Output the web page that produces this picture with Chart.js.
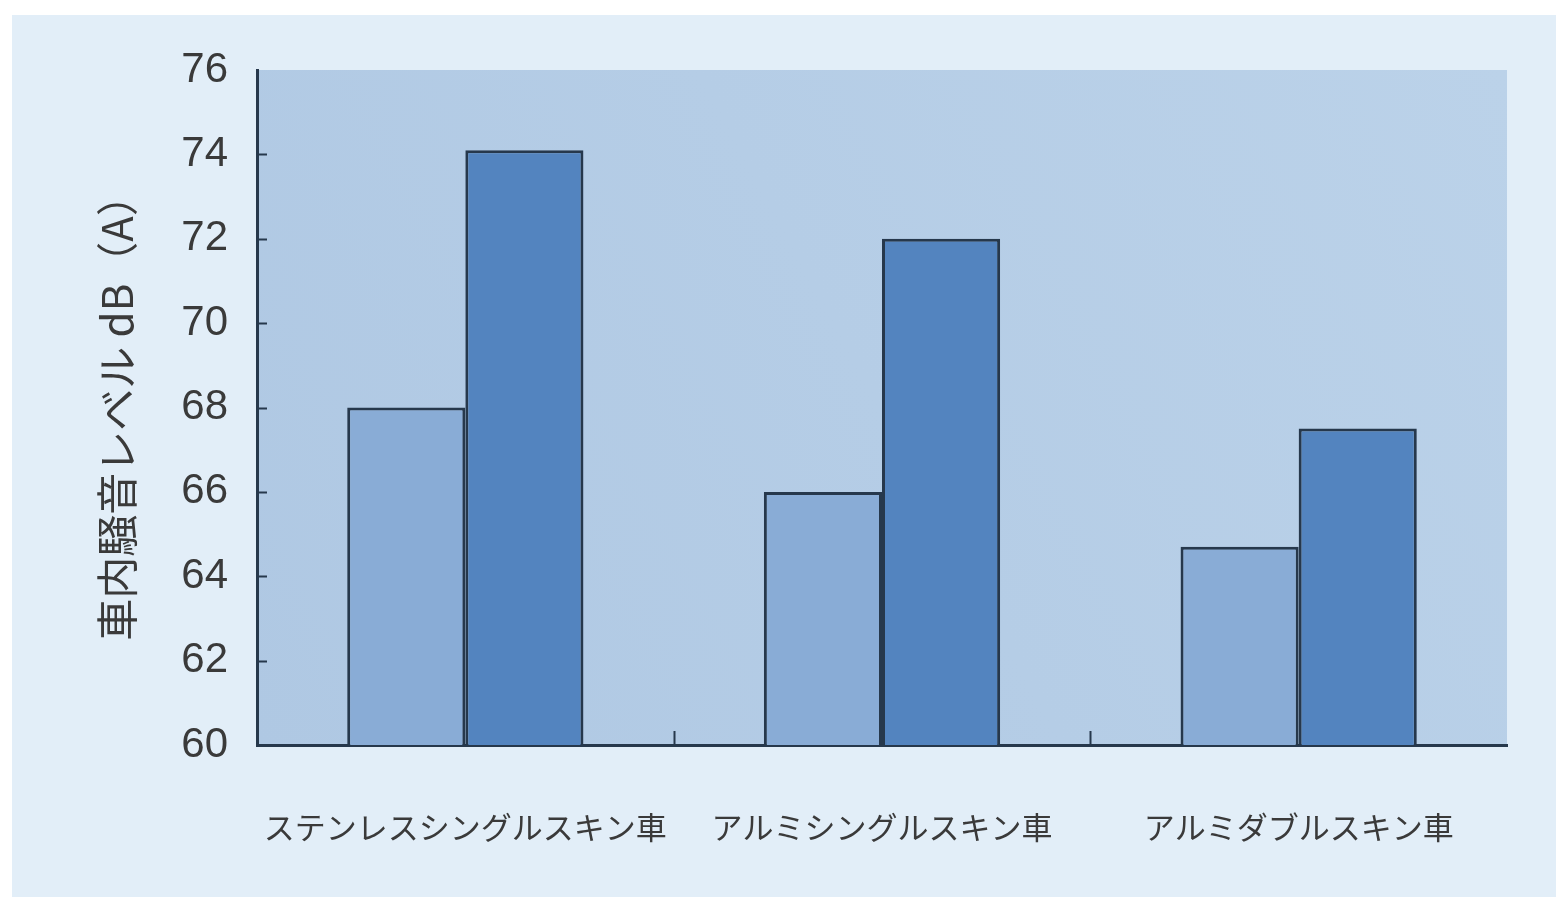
<!DOCTYPE html>
<html>
<head>
<meta charset="utf-8">
<script src="https://cdn.jsdelivr.net/npm/chart.js@4/dist/chart.umd.min.js"></script>
<style>
html,body{margin:0;padding:0;background:#ffffff;width:1556px;height:897px;overflow:hidden;}
#panel{position:absolute;left:12px;top:15px;width:1544px;height:882px;background:#e2eef8;}
#wrap{position:absolute;left:0;top:0;width:1556px;height:897px;}
</style>
</head>
<body>
<div id="panel"></div>
<div id="wrap"><canvas id="c" width="1556" height="897"></canvas></div>
<script>
const categories = ['ステンレスシングルスキン車', 'アルミシングルスキン車', 'アルミダブルスキン車'];
const seriesA = [68, 66, 64.7];
const seriesB = [74.1, 72, 67.5];
const yTicks = [60, 62, 64, 66, 68, 70, 72, 74, 76];
const yTitle = '車内騒音レベル dB（A）';

const axisColor = '#26384c';

const plotBg = {
  id: 'plotBg',
  beforeDraw(chart) {
    const {ctx, chartArea: a} = chart;
    ctx.save();
    const g = ctx.createLinearGradient(a.left, a.bottom, a.right, a.top);
    g.addColorStop(0, '#afc8e3');
    g.addColorStop(1, '#bbd2e9');
    ctx.fillStyle = g;
    ctx.fillRect(a.left, a.top, a.right - a.left, a.bottom - a.top);
    ctx.restore();
  },
  afterDatasetsDraw(chart) {
    const {ctx, chartArea: a, scales} = chart;
    ctx.save();
    ctx.strokeStyle = axisColor;
    ctx.lineWidth = 2;
    ctx.beginPath();
    yTicks.forEach(v => {
      if (v === yTicks[0] || v === yTicks[yTicks.length - 1]) return;
      const y = Math.round(scales.y.getPixelForValue(v)) + 0.5;
      ctx.moveTo(a.left, y);
      ctx.lineTo(a.left + 10, y);
    });
    const xs = scales.x;
    for (let i = 1; i < categories.length; i++) {
      const x = Math.round((xs.getPixelForValue(i - 1) + xs.getPixelForValue(i)) / 2) + 0.5;
      ctx.moveTo(x, a.bottom);
      ctx.lineTo(x, a.bottom - 14);
    }
    ctx.stroke();
    ctx.restore();
  }
};

new Chart(document.getElementById('c'), {
  type: 'bar',
  data: {
    labels: categories,
    datasets: [
      {data: seriesA, backgroundColor: '#89acd6', borderColor: axisColor, borderWidth: 3},
      {data: seriesB, backgroundColor: '#5384bf', borderColor: axisColor, borderWidth: 3}
    ]
  },
  options: {
    responsive: false,
    animation: false,
    devicePixelRatio: 1,
    layout: {padding: {left: 92, top: 70, right: 49, bottom: 0}},
    plugins: {legend: {display: false}, tooltip: {enabled: false}},
    datasets: {bar: {categoryPercentage: 0.567, barPercentage: 1.0}},
    scales: {
      x: {
        grid: {display: false},
        border: {display: true, color: axisColor, width: 3},
        ticks: {
          color: '#3a3a3a',
          font: {family: '"Noto Sans CJK JP"', size: 31},
          padding: 56,
          maxRotation: 0,
          autoSkip: false
        },
        afterFit(s) { s.height = 152; }
      },
      y: {
        min: 60, max: 76,
        grid: {display: false},
        border: {display: true, color: axisColor, width: 3},
        afterBuildTicks(s) { s.ticks = yTicks.map(v => ({value: v})); },
        ticks: {
          color: '#3a3a3a',
          font: {family: '"Liberation Sans", Arial, sans-serif', size: 42},
          padding: 21
        },
        title: {
          display: true,
          text: yTitle,
          color: '#3a3a3a',
          font: {family: '"Noto Sans CJK JP"', size: 42},
          padding: {top: 0, bottom: 0}
        },
        afterFit(s) { s.width = 165; }
      }
    }
  },
  plugins: [plotBg]
});
</script>
</body>
</html>
